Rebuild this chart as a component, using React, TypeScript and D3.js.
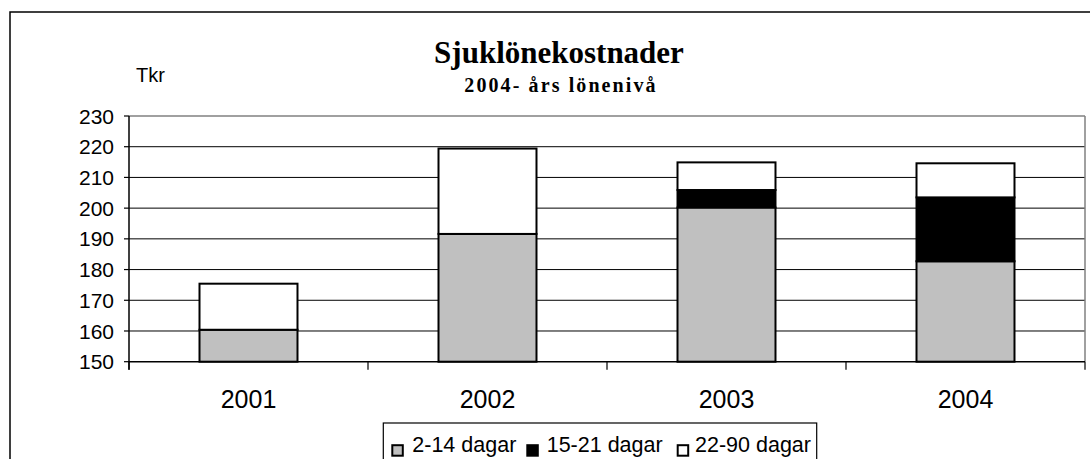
import React from "react";
import * as d3 from "d3";

const categories = ["2001", "2002", "2003", "2004"];
const seriesNames = ["2-14 dagar", "15-21 dagar", "22-90 dagar"];
const s2_14 = [160.4, 191.6, 200.2, 182.7];
const s15_21 = [0, 0, 5.7, 20.8];
const s22_90 = [15.0, 27.8, 9.0, 11.1];
const yTicks = [150, 160, 170, 180, 190, 200, 210, 220, 230];
const colors = ["#C0C0C0", "#000000", "#FFFFFF"];
const title = "Sjuklönekostnader";
const subtitle = "2004- års lönenivå";
const yUnit = "Tkr";

const W = 1090;
const H = 459;
const plot = { left: 129, right: 1085, top: 116, bottom: 361.7 };
const SANS = "'Liberation Sans', Arial, sans-serif";
const SERIF = "'Liberation Serif', 'Times New Roman', serif";

export default function App() {
  const x = d3
    .scaleBand<string>()
    .domain(categories)
    .range([plot.left, plot.right])
    .padding(0);
  const y = d3.scaleLinear().domain([150, 230]).range([plot.bottom, plot.top]);
  const barW = x.bandwidth() * 0.41;

  const rows = categories.map((c, i) => ({
    cat: c,
    a: s2_14[i],
    b: s15_21[i],
    c2: s22_90[i],
  }));
  const stack = d3.stack<any>().keys(["a", "b", "c2"]);
  const layers = stack(rows);

  const boundaries = [...categories.map((c) => x(c) as number), plot.right];

  const legendItems = [
    { sx: 392.3, tx: 412.3 },
    { sx: 527.3, tx: 546.7 },
    { sx: 677.7, tx: 695 },
  ];

  return (
    <svg
      width={W}
      height={H}
      style={{ position: "absolute", left: 0, top: 0, background: "#fff" }}
    >
      <rect x={0} y={0} width={W} height={H} fill="#fff" />
      {/* outer chart border */}
      <rect x={10} y={12} width={W + 20} height={H + 20} fill="none" stroke="#000" strokeWidth={1.5} />

      {/* title */}
      <text x={559} y={63} textAnchor="middle" fontFamily={SERIF} fontWeight="bold" fontSize={31}>
        {title}
      </text>
      <text
        x={561}
        y={92}
        textAnchor="middle"
        fontFamily={SERIF}
        fontWeight="bold"
        fontSize={20}
        letterSpacing={2.1}
      >
        {subtitle}
      </text>
      <text x={136} y={81.5} fontFamily={SANS} fontSize={20}>
        {yUnit}
      </text>

      {/* gridlines */}
      {yTicks
        .filter((t) => t > 150 && t < 230)
        .map((t) => (
          <line key={t} x1={plot.left} x2={plot.right} y1={y(t)} y2={y(t)} stroke="#000" strokeWidth={1} />
        ))}
      {/* plot area border top & right (grey) */}
      <line x1={plot.left} x2={plot.right} y1={y(230)} y2={y(230)} stroke="#808080" strokeWidth={1.5} />
      <line x1={plot.right} x2={plot.right} y1={plot.top} y2={plot.bottom} stroke="#808080" strokeWidth={1.5} />

      {/* bars */}
      {layers.map((layer, li) =>
        layer.map((d, i) => {
          const v0 = Math.max(d[0], 150);
          const v1 = d[1];
          if (v1 - d[0] <= 0) return null;
          const cx = (x(categories[i]) as number) + x.bandwidth() / 2;
          return (
            <rect
              key={li + "-" + i}
              x={cx - barW / 2}
              y={y(v1)}
              width={barW}
              height={y(v0) - y(v1)}
              fill={colors[li]}
              stroke="#000"
              strokeWidth={2}
            />
          );
        })
      )}

      {/* axes */}
      <line x1={plot.left} x2={plot.left} y1={plot.top} y2={plot.bottom + 8} stroke="#000" strokeWidth={1.5} />
      <line x1={plot.left} x2={plot.right} y1={plot.bottom} y2={plot.bottom} stroke="#000" strokeWidth={1.5} />
      {yTicks.map((t) => (
        <g key={t}>
          <line x1={plot.left - 5} x2={plot.left} y1={y(t)} y2={y(t)} stroke="#000" strokeWidth={1.2} />
          <text
            x={114}
            y={y(t)}
            dy="0.36em"
            textAnchor="end"
            fontFamily={SANS}
            fontSize={21}
          >
            {t}
          </text>
        </g>
      ))}
      {boundaries.map((bx, i) => (
        <line key={i} x1={bx} x2={bx} y1={plot.bottom} y2={plot.bottom + 8} stroke="#000" strokeWidth={1.2} />
      ))}
      {categories.map((c) => (
        <text
          key={c}
          x={(x(c) as number) + x.bandwidth() / 2}
          y={408}
          textAnchor="middle"
          fontFamily={SANS}
          fontSize={25}
        >
          {c}
        </text>
      ))}

      {/* legend */}
      <rect x={383.3} y={423} width={433.4} height={45} fill="#fff" stroke="#000" strokeWidth={1.2} />
      {seriesNames.map((n, i) => (
        <g key={n}>
          <rect
            x={legendItems[i].sx}
            y={445.2}
            width={10.5}
            height={10.5}
            fill={colors[i]}
            stroke="#000"
            strokeWidth={2}
          />
          <text x={legendItems[i].tx} y={452} fontFamily={SANS} fontSize={21.5}>
            {n}
          </text>
        </g>
      ))}
    </svg>
  );
}
